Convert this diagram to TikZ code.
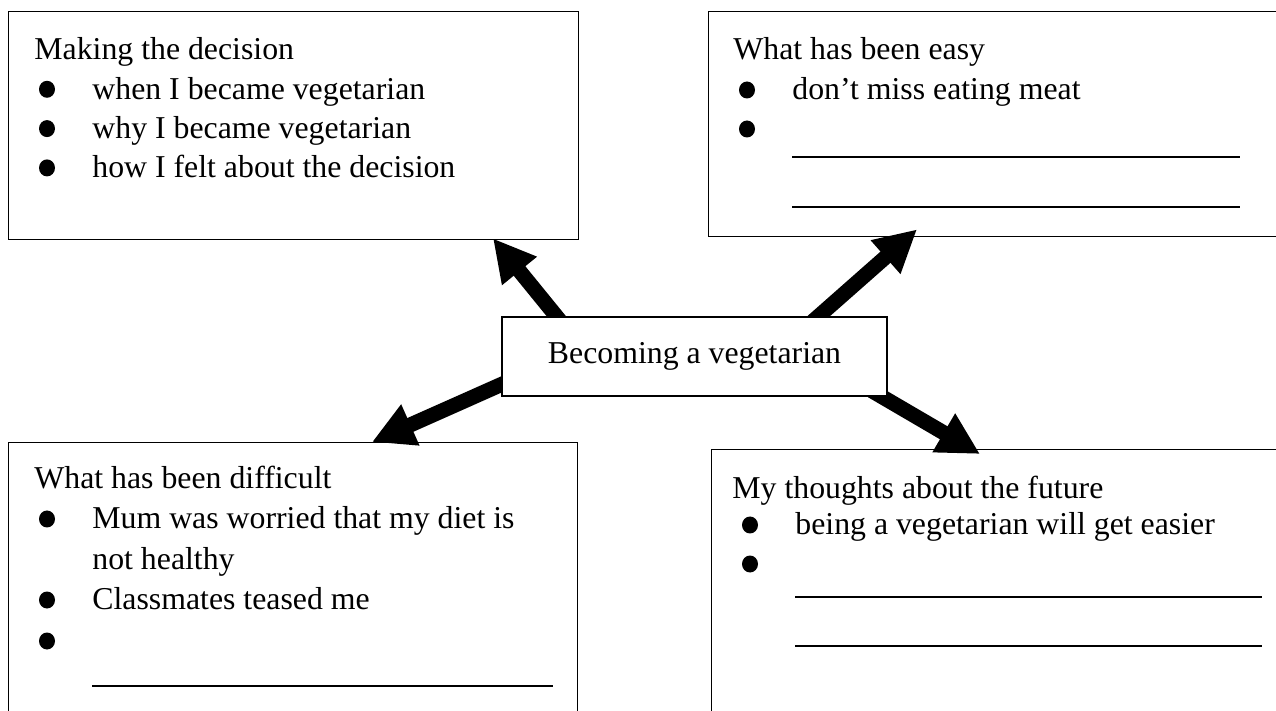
\documentclass[tikz,border=0pt]{standalone}
\usepackage{fontspec}
\setmainfont{Liberation Serif}
\usetikzlibrary{arrows.meta,backgrounds}
\tikzset{
  panel/.style={draw, line width=0.7pt, anchor=north west, inner sep=0pt},
  hubbox/.style={draw, fill=white, line width=0.7pt, inner sep=0pt,
    minimum width=192.5pt, minimum height=39.5pt, font=\fontsize{15.9}{19.5}\selectfont},
  entry/.style={anchor=base west, inner sep=0pt, font=\fontsize{15.9}{19.5}\selectfont},
  blank/.style={line width=0.6pt},
  fat arrow/.style={line width=7.5pt, -{Triangle[length=21pt,width=21pt]}}
}
\newcommand{\dotat}[2]{\fill (#1,#2) ellipse (8 and 8.5);}

\begin{document}
\begin{tikzpicture}[x=0.5pt, y=-0.5pt]
  \useasboundingbox (0,0) rectangle (1276,711);
  \clip (0,0) rectangle (1276,711);

  % the four panels
  \node[panel, minimum width=285pt, minimum height=114pt] (decision) at (8,11) {};
  \node[panel, minimum width=291pt, minimum height=112.5pt] (easy) at (708,11) {};
  \node[panel, minimum width=284.5pt, minimum height=144pt] (difficult) at (8,442) {};
  \node[panel, minimum width=290pt, minimum height=140pt] (future) at (711,449) {};

  \node[hubbox] (hub) at (694.5,356.5) {Becoming a vegetarian};

  % Making the decision
  \node[entry] (decision-title) at (34,60) {Making the decision};
  \foreach \txt [count=\i] in {when I became vegetarian, why I became vegetarian, how I felt about the decision}{
    \node[entry] (decision-\i) at (92,{60+39.3*\i}) {\txt};
    \dotat{47}{50+39.3*\i}
  }

  % What has been easy
  \node[entry] (easy-title) at (733,60) {What has been easy};
  \node[entry] (easy-1) at (792,100) {don’t miss eating meat};
  \dotat{747}{90}
  \dotat{747}{129}
  \draw[blank] (792,157) -- (1240,157);
  \draw[blank] (792,207) -- (1240,207);

  % What has been difficult
  \node[entry] (difficult-title) at (34,488) {What has been difficult};
  \node[entry] (difficult-1) at (92,529) {Mum was worried that my diet is};
  \node[entry] (difficult-1b) at (92,569) {not healthy};
  \node[entry] (difficult-2) at (92,610) {Classmates teased me};
  \dotat{47}{519}
  \dotat{47}{600}
  \dotat{47}{641}
  \draw[blank] (92,686) -- (553,686);

  % My thoughts about the future
  \node[entry] (future-title) at (732,499) {My thoughts about the future};
  \node[entry] (future-1) at (795,535) {being a vegetarian will get easier};
  \dotat{750}{525}
  \dotat{750}{564}
  \draw[blank] (795,597) -- (1262,597);
  \draw[blank] (795,646) -- (1262,646);

  % arrows out of the hub
  \begin{scope}[on background layer]
    \draw[fat arrow] ([xshift=30pt,yshift=-3pt]hub.north west) -- ([xshift=242.5pt,yshift=1pt]decision.south west);
    \draw[fat arrow] ([xshift=-38pt,yshift=-3pt]hub.north east) -- ([xshift=104.5pt,yshift=4pt]easy.south west);
    \draw[fat arrow] ([xshift=2pt,yshift=7pt]hub.south west) -- ([xshift=182pt]difficult.north west);
    \draw[fat arrow] ([xshift=-8pt,yshift=3pt]hub.south east) -- ([xshift=134.5pt,yshift=-2.5pt]future.north west);
  \end{scope}
\end{tikzpicture}
\end{document}
